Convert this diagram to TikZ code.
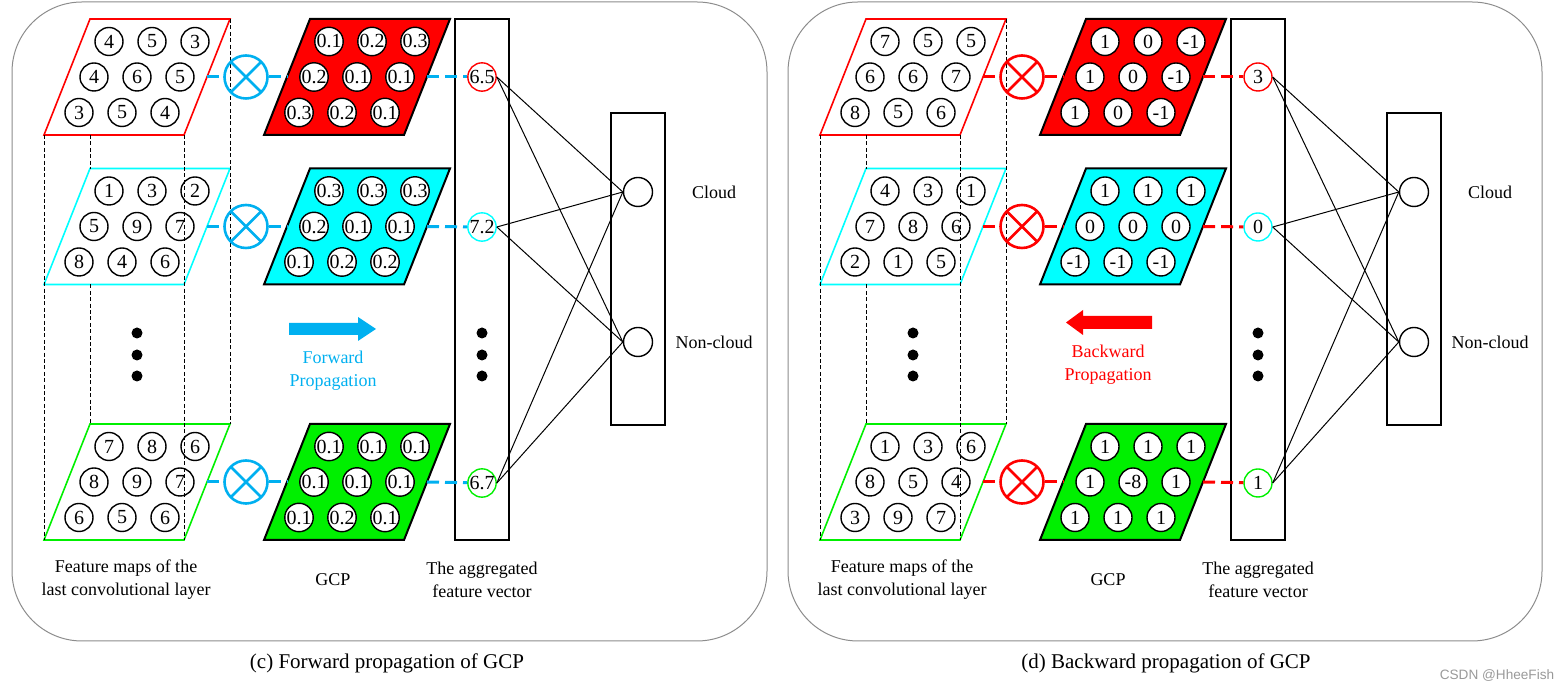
\documentclass[tikz,border=0pt]{standalone}
\usepackage{fontspec}
\setmainfont{Liberation Serif}
\newfontfamily\markfont{Liberation Sans}
\usetikzlibrary{positioning}

\definecolor{fwdblue}{HTML}{00B0F0}
\definecolor{mapred}{HTML}{FF0000}
\definecolor{mapcyan}{HTML}{00FFFF}
\definecolor{mapgreen}{HTML}{00F000}
\definecolor{framegray}{HTML}{8C8C8C}

\tikzset{
  panel/.style={draw=framegray, line width=0.5pt, rounded corners=35pt},
  cell/.style={circle, draw, line width=0.7pt, fill=white, minimum size=14pt, inner sep=0pt, font=\fontsize{10}{10}\selectfont},
  gcpframe/.style={draw=black, line width=1pt},
  guide/.style={line width=0.5pt, dash pattern=on 2pt off 1.2pt},
  otimes/.style={circle, draw=#1, line width=1.3pt, minimum size=21.5pt, inner sep=0pt,
    path picture={\draw[#1, line width=1.3pt] (path picture bounding box.north west) -- (path picture bounding box.south east)
      (path picture bounding box.north east) -- (path picture bounding box.south west);}},
  link/.style={line width=1.5pt, dash pattern=on 6pt off 3pt},
  vecbox/.style={draw, line width=0.7pt, minimum width=27pt, inner sep=0pt},
  vcell/.style={circle, draw, line width=0.7pt, minimum size=14pt, inner sep=0pt, font=\fontsize{10}{10}\selectfont},
  outcell/.style={circle, draw, line width=0.7pt, minimum size=14.5pt, inner sep=0pt},
  wire/.style={line width=0.5pt},
  lbl/.style={align=center, inner sep=0pt, font=\fontsize{9}{11.5}\selectfont},
  caption/.style={inner sep=0pt, font=\fontsize{10.5}{12}\selectfont}
}

% one 3x3 map: name, centre x, centre y, frame style, values
\newcommand{\featmap}[5]{%
  \draw[#4] (#2-93,#3+58) -- ++(140,0) -- ++(46,-116) -- ++(-140,0) -- cycle;
  \foreach \v [count=\k from 0] in {#5} {
    \pgfmathtruncatemacro\mcol{mod(\k,3)-1}
    \pgfmathtruncatemacro\mrow{\k/3}
    \node[cell] (#1-\k) at ({#2+43*\mcol+15*(1-\mrow)},{#3+35.5*(\mrow-1)}) {\v};
  }
  \coordinate (#1-w) at (#2-70,#3);
  \coordinate (#1-e) at (#2+70,#3);
}

\begin{document}
\begin{tikzpicture}[x=0.5pt, y=-0.5pt]
  \useasboundingbox (0,0) rectangle (1559,688);

  % ---------------- (c) forward ----------------
  \draw[panel] (12,2) rectangle (767,641);

  % Place maps
  \featmap{Lf1}{137}{77}{draw=mapred, line width=0.8pt}{4,5,3,4,6,5,3,5,4}
  \featmap{Lf2}{137}{226.5}{draw=mapcyan, line width=0.8pt}{1,3,2,5,9,7,8,4,6}
  \featmap{Lf3}{137}{482}{draw=mapgreen, line width=0.8pt}{7,8,6,8,9,7,6,5,6}
  \featmap{Lg1}{357}{77}{gcpframe, fill=mapred}{0.1,0.2,0.3,0.2,0.1,0.1,0.3,0.2,0.1}
  \featmap{Lg2}{357}{226.5}{gcpframe, fill=mapcyan}{0.3,0.3,0.3,0.2,0.1,0.1,0.1,0.2,0.2}
  \featmap{Lg3}{357}{482}{gcpframe, fill=mapgreen}{0.1,0.1,0.1,0.1,0.1,0.1,0.1,0.2,0.1}

  % stack edges
  \draw[guide] (44,135) -- (44,540);
  \draw[guide] (90,135) -- (90,169.5) (90,284.5) -- (90,424);
  \draw[guide] (184,135) -- (184,540);
  \draw[guide] (230,19) -- (230,424);
  \foreach \y in {333,355,376} \fill (137,\y) circle (2.75pt);

  % Place nodes
  \node[otimes=fwdblue] (Lx1) at (246,77) {};
  \node[otimes=fwdblue] (Lx2) at (246,226.5) {};
  \node[otimes=fwdblue] (Lx3) at (246,482) {};
  \node[vecbox, minimum height=260.5pt] (Lvec) at (482,279.5) {};
  \node[vcell, draw=mapred] (Lv1) at (482,77) {6.5};
  \node[vcell, draw=mapcyan] (Lv2) at (482,227) {7.2};
  \node[vcell, draw=mapgreen] (Lv3) at (482,483) {6.7};
  \foreach \y in {333,355,376} \fill (482,\y) circle (2.75pt);
  \node[vecbox, minimum height=156pt] (Lout) at (638,269) {};
  \node[outcell] (Lc) at (638,192) {};
  \node[outcell] (Ln) at (638,342) {};
  \node[lbl] (Lcl) at (714,192) {Cloud};
  \node[lbl] (Lnl) at (714,342) {Non-cloud};

  \fill[fwdblue] (289,323) -- (358,323) -- (358,317) -- (376,329) -- (358,341) -- (358,335) -- (289,335) -- cycle;
  \node[lbl, text=fwdblue] (Ldir) at (333,371) {Forward\\Propagation};

  \node[lbl] (Lfl) at (126,579.5) {Feature maps of the\\last convolutional layer};
  \node[lbl] (Lgl) at (333,579.5) {GCP};
  \node[lbl] (Lvl) at (482,579.5) {The aggregated\\feature vector};

  % Draw edges
  \foreach \i in {1,2,3} {
    \draw[link, fwdblue] (Lf\i-e) -- (Lx\i);
    \draw[link, fwdblue] (Lx\i) -- (Lg\i-w);
    \draw[link, fwdblue] (Lg\i-e) -- (Lv\i);
    \draw[wire] (Lv\i.east) -- (Lc.west);
    \draw[wire] (Lv\i.east) -- (Ln.west);
  }

  % ---------------- (d) backward ----------------
  \begin{scope}[xshift=388pt]
    \draw[panel] (12,2) rectangle (766,641);

    % Place maps
    \featmap{Rf1}{137}{77}{draw=mapred, line width=0.8pt}{7,5,5,6,6,7,8,5,6}
    \featmap{Rf2}{137}{226.5}{draw=mapcyan, line width=0.8pt}{4,3,1,7,8,6,2,1,5}
    \featmap{Rf3}{137}{482}{draw=mapgreen, line width=0.8pt}{1,3,6,8,5,4,3,9,7}
    \featmap{Rg1}{357}{77}{gcpframe, fill=mapred}{1,0,-1,1,0,-1,1,0,-1}
    \featmap{Rg2}{357}{226.5}{gcpframe, fill=mapcyan}{1,1,1,0,0,0,-1,-1,-1}
    \featmap{Rg3}{357}{482}{gcpframe, fill=mapgreen}{1,1,1,1,-8,1,1,1,1}

    % stack edges
    \draw[guide] (44,135) -- (44,540);
    \draw[guide] (90,135) -- (90,169.5) (90,284.5) -- (90,424);
    \draw[guide] (184,135) -- (184,540);
    \draw[guide] (230,19) -- (230,424);
    \foreach \y in {333,355,376} \fill (137,\y) circle (2.75pt);

    % Place nodes
    \node[otimes=mapred] (Rx1) at (246,77) {};
    \node[otimes=mapred] (Rx2) at (246,226.5) {};
    \node[otimes=mapred] (Rx3) at (246,482) {};
    \node[vecbox, minimum height=260.5pt] (Rvec) at (482,279.5) {};
    \node[vcell, draw=mapred] (Rv1) at (482,77) {3};
    \node[vcell, draw=mapcyan] (Rv2) at (482,227) {0};
    \node[vcell, draw=mapgreen] (Rv3) at (482,483) {1};
    \foreach \y in {333,355,376} \fill (482,\y) circle (2.75pt);
    \node[vecbox, minimum height=156pt] (Rout) at (638,269) {};
    \node[outcell] (Rc) at (638,192) {};
    \node[outcell] (Rn) at (638,342) {};
    \node[lbl] (Rcl) at (714,192) {Cloud};
    \node[lbl] (Rnl) at (714,342) {Non-cloud};

    \fill[mapred] (376,316) -- (307,316) -- (307,310) -- (290,322.5) -- (307,335) -- (307,329) -- (376,329) -- cycle;
    \node[lbl, text=mapred] (Rdir) at (332,365) {Backward\\Propagation};

    \node[lbl] (Rfl) at (126,579.5) {Feature maps of the\\last convolutional layer};
    \node[lbl] (Rgl) at (332,579.5) {GCP};
    \node[lbl] (Rvl) at (482,579.5) {The aggregated\\feature vector};

    % Draw edges
    \foreach \i in {1,2,3} {
      \draw[link, mapred] (Rf\i-e) -- (Rx\i);
      \draw[link, mapred] (Rx\i) -- (Rg\i-w);
      \draw[link, mapred] (Rg\i-e) -- (Rv\i);
      \draw[wire] (Rv\i.east) -- (Rc.west);
      \draw[wire] (Rv\i.east) -- (Rn.west);
    }
  \end{scope}

  % captions
  \node[caption] (capc) at (387,663) {(c) Forward propagation of GCP};
  \node[caption] (capd) at (1166,663) {(d) Backward propagation of GCP};
  \node[inner sep=0pt, text=black!40, font=\markfont\fontsize{6.8}{8}\selectfont] (mark) at (1497,676) {CSDN @HheeFish};
\end{tikzpicture}
\end{document}
